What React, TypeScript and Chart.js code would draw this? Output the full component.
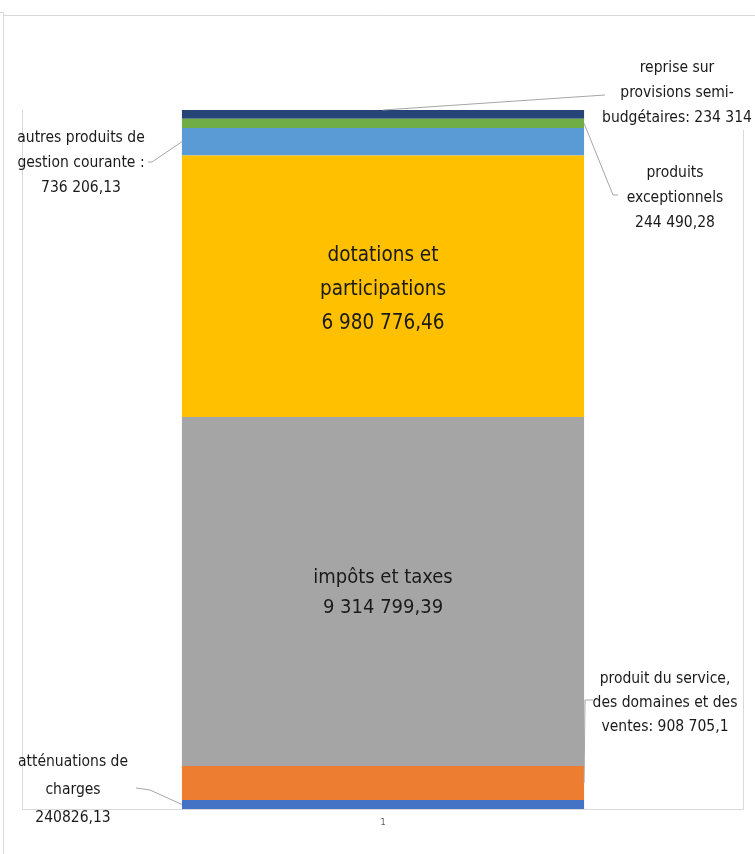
import React, { useEffect, useRef } from "react";
import { Chart, registerables } from "chart.js";

Chart.register(...registerables);

const categories = ["1"];
const seriesNames = [
  "atténuations de charges",
  "produit du service, des domaines et des ventes",
  "impôts et taxes",
  "dotations et participations",
  "autres produits de gestion courante",
  "produits exceptionnels",
  "reprise sur provisions semi-budgétaires",
];
const seriesValues = [240826.13, 908705.1, 9314799.39, 6980776.46, 736206.13, 244490.28, 234314];
const seriesColors = ["#4472C4", "#ED7D31", "#A5A5A5", "#FFC000", "#5B9BD5", "#70AD47", "#264478"];
const labelTexts = [
  ["atténuations de", "charges", "240826,13"],
  ["produit du service,", "des domaines et des", "ventes: 908 705,1"],
  ["impôts et taxes", "9 314 799,39"],
  ["dotations et", "participations", "6 980 776,46"],
  ["autres produits de", "gestion courante :", "736 206,13"],
  ["produits", "exceptionnels", "244 490,28"],
  ["reprise sur", "provisions semi-", "budgétaires: 234 314"],
];

const FONT = "'Liberation Sans Narrow', 'DejaVu Sans Condensed', 'Open Sans', sans-serif";

type LabelLayout = {
  inside?: boolean;
  cx?: number;
  firstY?: number;
  lh: number;
  size: number;
  anchor?: "left" | "right" | "top";
  via?: [number, number][];
  offset?: number;
};

const labelLayouts: LabelLayout[] = [
  { cx: 73, firstY: 762, lh: 28, size: 15.5, anchor: "left", via: [[150, 790], [136, 788]] },
  { cx: 665, firstY: 679, lh: 24, size: 15.5, anchor: "right", via: [[585, 700], [593, 700]] },
  { inside: true, lh: 30, size: 20, offset: 1 },
  { inside: true, lh: 34, size: 20.5, offset: 3 },
  { cx: 81, firstY: 138, lh: 25, size: 15.5, anchor: "left", via: [[152, 162], [148, 162]] },
  { cx: 675, firstY: 173, lh: 25, size: 15.5, anchor: "right", via: [[613, 195], [618, 195]] },
  { cx: 677, firstY: 68, lh: 25, size: 15.5, anchor: "top", via: [[605, 95]] },
];

const total = seriesValues.reduce((a, b) => a + b, 0);

const decorPlugin = {
  id: "decor",
  beforeDatasetsDraw(chart: any) {
    const { ctx, chartArea } = chart;
    ctx.save();
    ctx.strokeStyle = "#d9d9d9";
    ctx.lineWidth = 1;
    ctx.beginPath();
    ctx.moveTo(3.5, 12);
    ctx.lineTo(3.5, chart.height);
    ctx.moveTo(0, 12.5);
    ctx.lineTo(3.5, 12.5);
    ctx.moveTo(3.5, 15.5);
    ctx.lineTo(chart.width, 15.5);
    ctx.moveTo(chartArea.left + 0.5, chartArea.top);
    ctx.lineTo(chartArea.left + 0.5, chartArea.bottom + 0.5);
    ctx.lineTo(chartArea.right - 0.5, chartArea.bottom + 0.5);
    ctx.lineTo(chartArea.right - 0.5, chartArea.top + 20);
    ctx.stroke();
    ctx.restore();
  },
  afterDatasetsDraw(chart: any) {
    const { ctx } = chart;
    ctx.save();
    seriesValues.forEach((_, i) => {
      const el: any = chart.getDatasetMeta(i).data[0];
      const lay = labelLayouts[i];
      const lines = labelTexts[i];
      const top = Math.min(el.y, el.base);
      const bot = Math.max(el.y, el.base);
      const mid = (top + bot) / 2;
      const left = el.x - el.width / 2;
      const right = el.x + el.width / 2;
      ctx.fillStyle = "#1a1a1a";
      ctx.textAlign = "center";
      ctx.textBaseline = "middle";
      ctx.font = `${lay.size}px ${FONT}`;
      if (lay.inside) {
        const start = mid - ((lines.length - 1) * lay.lh) / 2 + (lay.offset || 0);
        lines.forEach((t, k) => ctx.fillText(t, el.x, start + k * lay.lh));
      } else {
        lines.forEach((t, k) => ctx.fillText(t, lay.cx!, lay.firstY! + k * lay.lh));
        let sx = el.x, sy = top;
        if (lay.anchor === "left") { sx = left; sy = mid; }
        if (lay.anchor === "right") { sx = right; sy = mid; }
        ctx.strokeStyle = "#a6a6a6";
        ctx.lineWidth = 1;
        ctx.beginPath();
        ctx.moveTo(sx, sy);
        (lay.via || []).forEach(([px, py]) => ctx.lineTo(px, py));
        ctx.stroke();
      }
    });
    ctx.restore();
  },
};

export default function App() {
  const ref = useRef<HTMLCanvasElement | null>(null);
  useEffect(() => {
    document.body.style.margin = "0";
    const chart = new Chart(ref.current!, {
      type: "bar",
      data: {
        labels: categories,
        datasets: seriesValues.map((v, i) => ({
          label: seriesNames[i],
          data: [v],
          backgroundColor: seriesColors[i],
          borderWidth: 0,
          categoryPercentage: 1,
          barPercentage: 0.557,
        })),
      },
      options: {
        animation: false,
        responsive: true,
        maintainAspectRatio: false,
        layout: { padding: { left: 22, right: 11, top: 110, bottom: 0 } },
        plugins: { legend: { display: false }, tooltip: { enabled: false } },
        scales: {
          x: {
            stacked: true,
            grid: { display: false },
            border: { display: false },
            ticks: { color: "#595959", font: { size: 9, family: FONT }, padding: 0 },
            afterFit: (axis: any) => { axis.height = 45; },
          },
          y: { stacked: true, display: false, min: 0, max: total },
        },
      },
      plugins: [decorPlugin],
    });
    return () => chart.destroy();
  }, []);
  return (
    <div style={{ width: 755, height: 854, position: "relative" }}>
      <canvas ref={ref} />
    </div>
  );
}
